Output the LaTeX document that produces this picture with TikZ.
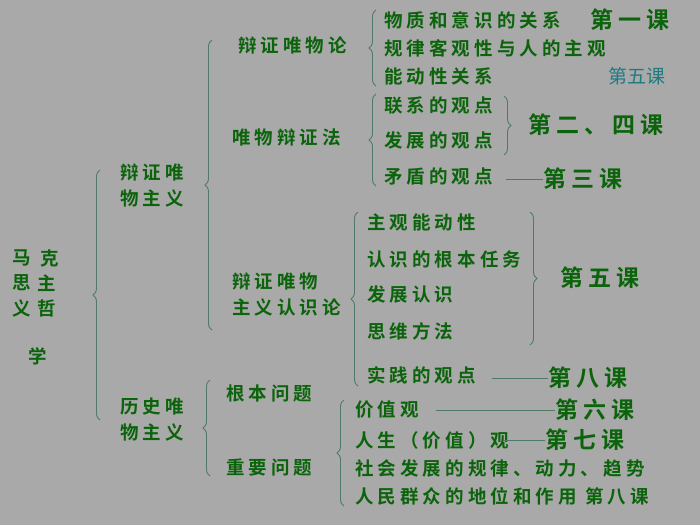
\documentclass[tikz,border=0pt]{standalone}
\usepackage{fontspec}
\newfontfamily\cjk[LetterSpace=22]{Noto Sans CJK SC Bold}
\newfontfamily\cjkr{Noto Sans CJK SC}
\usetikzlibrary{decorations.pathreplacing}
\definecolor{bg}{HTML}{A9A9A9}
\definecolor{tx}{HTML}{0B640B}
\definecolor{br}{HTML}{4F7A68}
\definecolor{teal5}{HTML}{1F7A80}
\tikzset{
 t/.style={anchor=west,text=tx,inner sep=0pt,font=\cjk\fontsize{18.5}{26}\selectfont,align=left},
 big/.style={anchor=west,text=tx,inner sep=0pt,font=\cjk\fontsize{23}{26}\selectfont},
 brc/.style={draw=br,line width=0.9pt,decorate,decoration={brace,amplitude=7pt}},
 ln/.style={draw=br,line width=0.9pt}
}
\begin{document}
\begin{tikzpicture}[x=1pt,y=-1pt]
\fill[bg] (0,0) rectangle (700,525);
\useasboundingbox (0,0) rectangle (700,525);
% root
\node[t] (m1) at (12,258) {马};
\node[t] (m2) at (40,258) {克};
\node[t] (m3) at (12,283) {思};
\node[t] (m4) at (37,283) {主};
\node[t] (m5) at (12,308) {义};
\node[t] (m6) at (37,308) {哲};
\node[t] (m7) at (28,356) {学};
\coordinate (b1t) at (100,170); \coordinate (b1b) at (100,420);
\draw[brc] (b1b) -- (b1t);
\node[t] (dw) at (120,186) {辩证唯\\物主义};
\node[t] (ls) at (120,420) {历史唯\\物主义};
% level 2
\coordinate (b2t) at (212,40); \coordinate (b2b) at (212,330);
\draw[brc] (b2b) -- (b2t);
\node[t] (d1) at (238,45) {辩证唯物论};
\node[t] (d2) at (232,137) {唯物辩证法};
\node[t] (d3) at (232,294) {辩证唯物\\主义认识论};
% 辩证唯物论
\coordinate (b3t) at (376,10); \coordinate (b3b) at (376,86);
\draw[brc] (b3b) -- (b3t);
\node[t] (a1) at (384,20) {物质和意识的关系};
\node[big] (k1) at (590,20) {第一课};
\node[t] (a2) at (384,48) {规律客观性与人的主观};
\node[t] (a3) at (384,76) {能动性关系};
\node[anchor=west,text=teal5,inner sep=0pt,font=\cjkr\fontsize{19}{22}\selectfont] (k5a) at (608,76) {第五课};
% 唯物辩证法
\coordinate (b4t) at (376,94); \coordinate (b4b) at (376,186);
\draw[brc] (b4b) -- (b4t);
\node[t] (c1) at (384,106) {联系的观点};
\node[t] (c2) at (384,140) {发展的观点};
\node[t] (c3) at (384,177) {矛盾的观点};
\coordinate (b5t) at (504,96); \coordinate (b5b) at (504,155);
\draw[brc] (b5t) -- (b5b);
\node[big] (k24) at (528,125) {第二、四课};
\node[big] (k3) at (543,179) {第三课};
\draw[ln] (506,179) -- (k3.west);
% 认识论
\coordinate (b6t) at (358,212); \coordinate (b6b) at (358,386);
\draw[brc] (b6b) -- (b6t);
\node[t] (e1) at (367,222) {主观能动性};
\node[t] (e2) at (367,259) {认识的根本任务};
\node[t] (e3) at (367,294) {发展认识};
\node[t] (e4) at (367,331) {思维方法};
\node[t] (e5) at (367,375) {实践的观点};
\coordinate (b7t) at (530,212); \coordinate (b7b) at (530,345);
\draw[brc] (b7t) -- (b7b);
\node[big] (k5) at (560,278) {第五课};
\node[big] (k8a) at (548,378) {第八课};
\draw[ln] (492,378) -- (k8a.west);
% 历史唯物主义
\coordinate (b8t) at (210,380); \coordinate (b8b) at (210,476);
\draw[brc] (b8b) -- (b8t);
\node[t] (h1) at (226,393) {根本问题};
\node[t] (h2) at (226,467) {重要问题};
\coordinate (b9t) at (344,400); \coordinate (b9b) at (344,506);
\draw[brc] (b9b) -- (b9t);
\node[t] (g1) at (355,410) {价值观};
\node[big] (k6) at (555,410) {第六课};
\draw[ln] (436,410) -- (k6.west);
\node[t] (g2) at (355,440) {人生（价值）观};
\node[big] (k7) at (545,440) {第七课};
\draw[ln] (503,440) -- (k7.west);
\node[t] (g3) at (355,468) {社会发展的规律、动力、趋势};
\node[t] (g4) at (355,496) {人民群众的地位和作用\ 第八课};
\end{tikzpicture}
\end{document}
